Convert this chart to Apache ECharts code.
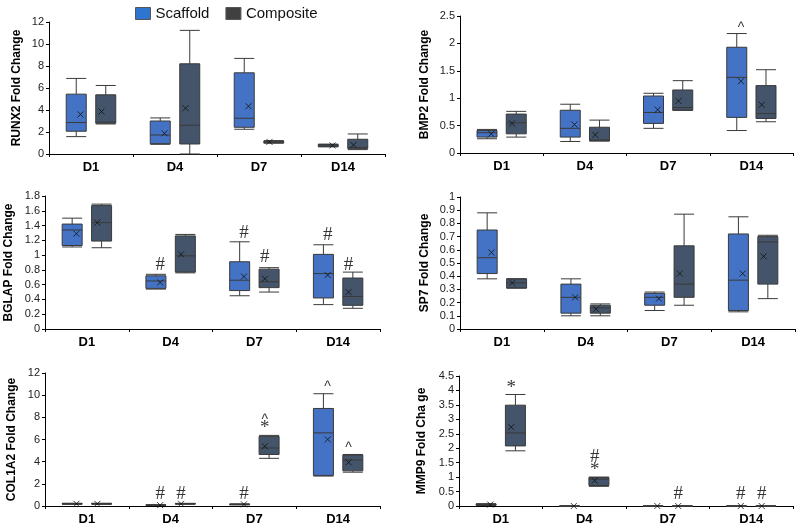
<!DOCTYPE html>
<html>
<head>
<meta charset="utf-8">
<script src="https://cdn.jsdelivr.net/npm/echarts@6/dist/echarts.min.js"></script>
<style>
  html, body { margin: 0; background: #fff; }
  #chart { width: 800px; height: 526px; }
</style>
</head>
<body>
<div id="chart"></div>
<script>
const days = ['D1', 'D4', 'D7', 'D14'];

// box stats per day: [min, Q1, median, Q3, max]
const runx2Scaffold = [[1.58, 2.07, 2.86, 5.44, 6.87], [0.88, 0.94, 1.73, 3.0, 3.28], [2.25, 2.43, 3.25, 7.38, 8.69], [0.65, 0.68, 0.79, 0.86, 0.9]];
const runx2Composite = [[2.73, 2.8, 2.89, 5.38, 6.23], [0, 0.91, 2.61, 8.2, 11.24], [0.98, 1.02, 1.08, 1.15, 1.22], [0.4, 0.49, 0.6, 1.34, 1.82]];
const runx2ScaffoldMean = [3.6, 1.88, 4.34, 0.78];
const runx2CompositeMean = [3.86, 4.16, 1.1, 0.82];

const bmp2Scaffold = [[0.26, 0.29, 0.37, 0.41, 0.43], [0.21, 0.29, 0.45, 0.78, 0.89], [0.45, 0.54, 0.74, 1.04, 1.09], [0.41, 0.65, 1.38, 1.93, 2.18]];
const bmp2Composite = [[0.29, 0.35, 0.55, 0.71, 0.76], [0.22, 0.22, 0.24, 0.47, 0.6], [0.78, 0.78, 0.83, 1.15, 1.32], [0.57, 0.63, 0.72, 1.23, 1.52]];
const bmp2ScaffoldMean = [0.35, 0.52, 0.79, 1.31];
const bmp2CompositeMean = [0.54, 0.33, 0.95, 0.88];

const bglapScaffold = [[1.11, 1.13, 1.34, 1.42, 1.5], [0.54, 0.55, 0.65, 0.72, 0.74], [0.45, 0.52, 0.66, 0.91, 1.18], [0.33, 0.42, 0.75, 1.01, 1.14]];
const bglapComposite = [[1.1, 1.19, 1.44, 1.67, 1.69], [0.76, 0.77, 0.99, 1.26, 1.28], [0.5, 0.56, 0.64, 0.81, 0.83], [0.28, 0.32, 0.44, 0.69, 0.77]];
const bglapScaffoldMean = [1.29, 0.63, 0.71, 0.73];
const bglapCompositeMean = [1.44, 1.01, 0.68, 0.5];

const sp7Scaffold = [[0.38, 0.42, 0.54, 0.75, 0.88], [0.1, 0.12, 0.24, 0.34, 0.38], [0.14, 0.18, 0.24, 0.27, 0.28], [0.13, 0.14, 0.37, 0.72, 0.85]];
const sp7Composite = [[0.31, 0.31, 0.35, 0.38, 0.38], [0.1, 0.12, 0.16, 0.18, 0.19], [0.18, 0.24, 0.34, 0.63, 0.87], [0.23, 0.34, 0.66, 0.7, 0.71]];
const sp7ScaffoldMean = [0.58, 0.24, 0.23, 0.42];
const sp7CompositeMean = [0.35, 0.15, 0.42, 0.55];

const col1a2Scaffold = [[0.15, 0.18, 0.2, 0.22, 0.25], [0.05, 0.07, 0.08, 0.1, 0.11], [0.1, 0.13, 0.15, 0.17, 0.19], [2.7, 2.76, 6.6, 8.8, 10.13]];
const col1a2Composite = [[0.15, 0.18, 0.2, 0.22, 0.25], [0.16, 0.18, 0.2, 0.22, 0.24], [4.3, 4.65, 5.24, 6.28, 6.37], [3.05, 3.17, 4.15, 4.6, 4.65]];
const col1a2ScaffoldMean = [0.2, 0.08, 0.15, 6.01];
const col1a2CompositeMean = [0.2, 0.2, 5.39, 3.94];

const mmp9Scaffold = [[0.02, 0.03, 0.05, 0.07, 0.08], [0, 0, 0, 0, 0], [0, 0, 0, 0, 0], [0, 0, 0, 0, 0]];
const mmp9Composite = [[1.91, 2.08, 2.53, 3.49, 3.86], [0.68, 0.71, 0.93, 0.99, 1.0], [0, 0, 0, 0, 0], [0, 0, 0, 0, 0]];
const mmp9ScaffoldMean = [0.05, 0, 0, 0];
const mmp9CompositeMean = [2.73, 0.88, 0, 0];

// significance marks: [day index, group, y, symbol]
const runx2Marks = [];
const bmp2Marks = [[3, 'S', 2.27, '^']];
const bglapMarks = [[1, 'S', 0.86, '#'], [2, 'S', 1.3, '#'], [2, 'C', 0.98, '#'], [3, 'S', 1.27, '#'], [3, 'C', 0.87, '#']];
const sp7Marks = [];
const col1a2Marks = [[1, 'S', 1.05, '#'], [1, 'C', 1.05, '#'], [2, 'S', 1.05, '#'], [2, 'C', 7.05, '*'], [2, 'C', 7.75, '^'], [3, 'S', 10.75, '^'], [3, 'C', 5.25, '^']];
const mmp9Marks = [[0, 'C', 4.08, '*'], [1, 'C', 1.25, '*'], [1, 'C', 1.68, '#'], [2, 'C', 0.43, '#'], [3, 'S', 0.43, '#'], [3, 'C', 0.43, '#']];

const panels = [
  { name: 'RUNX2 Fold Change', s: runx2Scaffold, c: runx2Composite, sm: runx2ScaffoldMean, cm: runx2CompositeMean, marks: runx2Marks, max: 12, interval: 2, grid: [49, 22, 336, 132], gap: 26 },
  { name: 'BMP2 Fold Change', s: bmp2Scaffold, c: bmp2Composite, sm: bmp2ScaffoldMean, cm: bmp2CompositeMean, marks: bmp2Marks, max: 2.5, interval: 0.5, grid: [460, 16, 333, 137], gap: 29 },
  { name: 'BGLAP Fold Change', s: bglapScaffold, c: bglapComposite, sm: bglapScaffoldMean, cm: bglapCompositeMean, marks: bglapMarks, max: 1.8, interval: 0.2, grid: [45, 196, 335, 133], gap: 30 },
  { name: 'SP7 Fold Change', s: sp7Scaffold, c: sp7Composite, sm: sp7ScaffoldMean, cm: sp7CompositeMean, marks: sp7Marks, max: 1, interval: 0.1, grid: [460, 197, 335, 132], gap: 29 },
  { name: 'COL1A2 Fold Change', s: col1a2Scaffold, c: col1a2Composite, sm: col1a2ScaffoldMean, cm: col1a2CompositeMean, marks: col1a2Marks, max: 12, interval: 2, grid: [45, 373, 335, 135], gap: 27 },
  { name: 'MMP9 Fold Cha ge', s: mmp9Scaffold, c: mmp9Composite, sm: mmp9ScaffoldMean, cm: mmp9CompositeMean, marks: mmp9Marks, max: 4.5, interval: 0.5, grid: [459, 376, 334, 133], gap: 31 }
];

const scaffoldColor = '#4472C4';
const compositeColor = '#44546A';

// each day split into 4 hidden slots; scaffold sits in slot 1, composite in slot 2
const slots = [];
days.forEach(d => { slots.push(d + 'a', d + 's', d + 'c', d + 'b'); });
const slotOf = (k, g) => k * 4 + (g === 'S' ? 1 : 2);

const grid = [], xAxis = [], yAxis = [], series = [];
const crossPath = 'path://M0,0L10,10M0,10L10,0';

panels.forEach((p, i) => {
  grid.push({ left: p.grid[0], top: p.grid[1], width: p.grid[2], height: p.grid[3] });
  xAxis.push({
    type: 'category', gridIndex: i, data: days,
    axisLine: { lineStyle: { color: '#000', width: 1 } },
    axisTick: { show: true, length: 3, lineStyle: { color: '#000' } },
    axisLabel: { color: '#000', fontWeight: 'bold', fontSize: 13, fontFamily: 'Liberation Sans, Arial', margin: 7 }
  });
  xAxis.push({ type: 'category', gridIndex: i, data: slots, show: false });
  yAxis.push({
    type: 'value', gridIndex: i, min: 0, max: p.max, interval: p.interval,
    name: p.name, nameLocation: 'middle', nameGap: p.gap, nameRotate: 90,
    nameTextStyle: { color: '#000', fontWeight: 'bold', fontSize: 12, fontFamily: 'Liberation Sans, Arial' },
    axisLine: { show: true, lineStyle: { color: '#000', width: 1 } },
    axisTick: { show: true, length: 3, lineStyle: { color: '#000' } },
    axisLabel: { color: '#222', fontSize: 11, fontFamily: 'Liberation Sans, Arial', margin: 5 },
    splitLine: { show: false }
  });
  const xi = i * 2 + 1;
  [['Scaffold', 'S', p.s, p.sm, scaffoldColor], ['Composite', 'C', p.c, p.cm, compositeColor]].forEach(([nm, g, box, mean, col]) => {
    series.push({
      name: nm, type: 'boxplot', xAxisIndex: xi, yAxisIndex: i,
      boxWidth: [20, 20],
      encode: { x: 0, y: [1, 2, 3, 4, 5] },
      data: box.map((b, k) => [slotOf(k, g)].concat(b)),
      itemStyle: { color: col, borderColor: '#3a3a3a', borderWidth: 1 },
      emphasis: { disabled: true },
      z: 2
    });
    series.push({
      name: nm + ' mean', type: 'scatter', xAxisIndex: xi, yAxisIndex: i,
      symbol: crossPath, symbolSize: 6,
      itemStyle: { color: 'none', borderColor: '#111', borderWidth: 1 },
      data: mean.map((m, k) => [slotOf(k, g), m]),
      z: 3
    });
  });
  series.push({
    name: 'marks', type: 'scatter', xAxisIndex: xi, yAxisIndex: i,
    symbolSize: 1, itemStyle: { color: 'rgba(0,0,0,0)' },
    label: { show: true, position: 'inside', formatter: '{b}', color: '#000', fontFamily: 'Liberation Serif, Times New Roman, serif', fontSize: 19 },
    data: p.marks.map(m => ({ name: m[3], value: [slotOf(m[0], m[1]), m[2]], label: m[3] === '^' ? { fontSize: 14, fontFamily: 'Liberation Sans, Arial' } : {} })),
    z: 4
  });
});

const chart = echarts.init(document.getElementById('chart'));
chart.setOption({
  animation: false,
  legend: {
    data: [
      { name: 'Scaffold', itemStyle: { color: '#2E75D0', borderColor: '#555', borderWidth: 1 } },
      { name: 'Composite', itemStyle: { color: '#404040', borderColor: '#555', borderWidth: 1 } }
    ],
    left: 130, top: 1, icon: 'rect', itemWidth: 15, itemHeight: 12, itemGap: 16,
    textStyle: { fontSize: 15, color: '#111', fontFamily: 'Liberation Sans, Arial' }
  },
  grid, xAxis, yAxis, series
});
</script>
</body>
</html>
